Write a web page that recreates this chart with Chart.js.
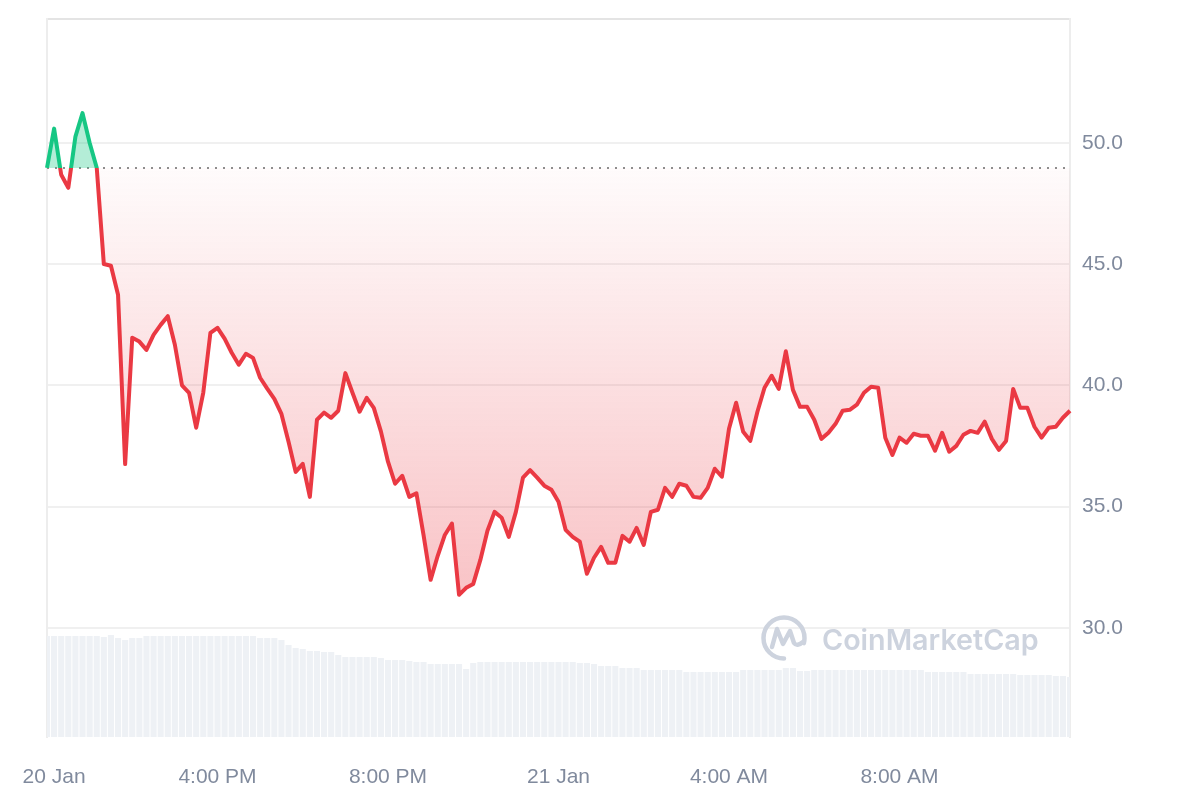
<!DOCTYPE html>
<html>
<head>
<meta charset="utf-8">
<script src="https://cdn.jsdelivr.net/npm/chart.js@4.4.1/dist/chart.umd.min.js"></script>
<style>
  html, body { margin: 0; padding: 0; background: #fff; }
</style>
</head>
<body>
<canvas id="priceChart" width="1200" height="800"></canvas>
<script>
// price every 10 minutes, 20 Jan 12:00 PM -> 21 Jan 12:00 PM
var prices = [
  48.96, 50.58, 48.68, 48.14, 50.25, 51.22, 50.00, 48.97, 45.00, 44.93,
  43.73, 36.75, 41.96, 41.80, 41.46, 42.08, 42.49, 42.85, 41.67, 40.00,
  39.69, 38.25, 39.70, 42.16, 42.37, 41.92, 41.34, 40.85, 41.30, 41.13,
  40.31, 39.86, 39.44, 38.82, 37.67, 36.43, 36.76, 35.40, 38.58, 38.87,
  38.66, 38.95, 40.50, 39.69, 38.91, 39.48, 39.07, 38.10, 36.85, 35.94,
  36.27, 35.40, 35.55, 33.83, 31.98, 32.97, 33.83, 34.30, 31.36, 31.65,
  31.81, 32.80, 34.00, 34.78, 34.54, 33.75, 34.78, 36.19, 36.50, 36.19,
  35.86, 35.69, 35.20, 34.04, 33.75, 33.55, 32.23, 32.89, 33.34, 32.68,
  32.68, 33.79, 33.55, 34.12, 33.42, 34.78, 34.87, 35.77, 35.40, 35.94,
  35.86, 35.40, 35.36, 35.77, 36.56, 36.23, 38.21, 39.28, 38.08, 37.71,
  38.91, 39.90, 40.39, 39.85, 41.40, 39.81, 39.11, 39.11, 38.58, 37.79,
  38.04, 38.41, 38.95, 38.99, 39.20, 39.69, 39.94, 39.90, 37.84, 37.13,
  37.84, 37.63, 38.00, 37.92, 37.92, 37.30, 38.04, 37.26, 37.50, 37.96,
  38.12, 38.04, 38.50, 37.79, 37.34, 37.70, 39.85, 39.07, 39.07, 38.29,
  37.84, 38.25, 38.29, 38.66, 38.95
];

// 24h volume (M) at the same times
var volumes = [
  140.7, 140.7, 140.7, 140.7, 140.7, 140.7, 140.7, 140.7, 139.3, 142.1,
  137.9, 135.1, 137.9, 137.9, 140.7, 140.7, 140.7, 140.7, 140.7, 140.7,
  140.7, 140.7, 140.7, 140.7, 140.7, 140.7, 140.7, 140.7, 140.7, 140.7,
  137.9, 137.9, 137.9, 135.1, 128.1, 124.0, 122.6, 119.8, 119.8, 118.4,
  118.4, 114.2, 111.4, 111.4, 111.4, 111.4, 111.4, 110.0, 107.2, 107.2,
  107.2, 105.9, 104.5, 104.5, 101.7, 101.7, 101.7, 101.7, 101.7, 94.7,
  103.1, 104.5, 104.5, 104.5, 104.5, 104.5, 104.5, 104.5, 104.5, 104.5,
  104.5, 104.5, 104.5, 104.5, 104.5, 103.1, 103.1, 101.7, 98.9, 98.9,
  98.9, 96.1, 96.1, 96.1, 93.3, 93.3, 93.3, 93.3, 93.3, 93.3,
  90.5, 90.5, 90.5, 90.5, 90.5, 90.5, 90.5, 90.5, 93.3, 93.3,
  93.3, 93.3, 93.3, 93.3, 96.1, 96.1, 91.9, 91.9, 93.3, 93.3,
  93.3, 93.3, 93.3, 93.3, 93.3, 93.3, 93.3, 93.3, 93.3, 93.3,
  93.3, 93.3, 93.3, 93.3, 90.5, 90.5, 90.5, 90.5, 90.5, 90.5,
  87.7, 87.7, 87.7, 87.7, 87.7, 87.7, 87.7, 86.4, 86.4, 86.4,
  86.4, 86.4, 85.0, 85.0, 83.6
];

var openPrice = 48.96;
var yTicks = [30, 35, 40, 45, 50];
var xTickIndex = [1, 24, 48, 72, 96, 120];
var xTickText = ['20 Jan', '4:00 PM', '8:00 PM', '21 Jan', '4:00 AM', '8:00 AM'];

var labels = [];
for (var i = 0; i < prices.length; i++) {
  var m = 12 * 60 + i * 10;
  var day = m >= 1440 ? '21 Jan ' : '20 Jan ';
  var hh = Math.floor((m % 1440) / 60), mm = m % 60;
  labels.push(day + String(hh).padStart(2, '0') + ':' + String(mm).padStart(2, '0'));
}

var RED = '#ea3943', GREEN = '#16c784', LABEL = '#808a9d';
var yMin = 25.5, yMax = 55.1;

function lineColor(context) {
  var chart = context.chart, a = chart.chartArea;
  if (!a) return RED;
  var y = chart.scales.y.getPixelForValue(openPrice);
  var t = Math.min(Math.max((y - a.top) / (a.bottom - a.top), 0), 1);
  var g = chart.ctx.createLinearGradient(0, a.top, 0, a.bottom);
  g.addColorStop(0, GREEN);
  g.addColorStop(t, GREEN);
  g.addColorStop(t, RED);
  g.addColorStop(1, RED);
  return g;
}

function redFill(context) {
  var chart = context.chart, a = chart.chartArea;
  if (!a) return 'rgba(234,57,67,0.1)';
  var y0 = chart.scales.y.getPixelForValue(openPrice);
  var y1 = chart.scales.y.getPixelForValue(Math.min.apply(null, prices));
  var g = chart.ctx.createLinearGradient(0, y0, 0, y1);
  g.addColorStop(0, 'rgba(234,57,67,0.02)');
  g.addColorStop(1, 'rgba(234,57,67,0.30)');
  return g;
}

function noPad(s) {
  s.paddingTop = 0;
  s.paddingBottom = 0;
  s.paddingLeft = 0;
  s.paddingRight = 0;
}

var openLine = {
  id: 'openLine',
  beforeDatasetsDraw: function (chart) {
    var ctx = chart.ctx, a = chart.chartArea;
    var y = Math.round(chart.scales.y.getPixelForValue(openPrice));
    ctx.save();
    ctx.strokeStyle = '#8e8e8e';
    ctx.lineWidth = 2;
    ctx.setLineDash([2, 6]);
    ctx.beginPath();
    ctx.moveTo(a.left, y);
    ctx.lineTo(a.right, y);
    ctx.stroke();
    ctx.restore();
  }
};

var watermark = {
  id: 'watermark',
  beforeDatasetsDraw: function (chart) {
    var ctx = chart.ctx, a = chart.chartArea;
    var cx = a.right - 286, cy = a.bottom - 99;
    ctx.save();
    ctx.strokeStyle = '#cdd3de';
    ctx.fillStyle = '#cdd3de';
    ctx.lineWidth = 4.5;
    ctx.lineCap = 'round';
    ctx.lineJoin = 'round';
    ctx.beginPath();
    ctx.arc(cx, cy, 20.5, 0.5 * Math.PI, 2.08 * Math.PI);
    ctx.stroke();
    ctx.beginPath();
    ctx.moveTo(cx - 12, cy + 9);
    ctx.lineTo(cx - 7, cy - 9);
    ctx.lineTo(cx - 1, cy + 6);
    ctx.lineTo(cx + 6, cy - 7);
    ctx.lineTo(cx + 10, cy + 5);
    ctx.quadraticCurveTo(cx + 13, cy + 9, cx + 19, cy + 4);
    ctx.stroke();
    ctx.font = '600 26px Inter, sans-serif';
    var w = ctx.measureText('CoinMarketCap').width;
    var size = 26 * 217 / w;
    ctx.font = '600 ' + size.toFixed(1) + 'px Inter, sans-serif';
    ctx.textBaseline = 'alphabetic';
    ctx.fillText('CoinMarketCap', a.right - 248, a.bottom - 87);
    ctx.restore();
  }
};

Chart.defaults.font.family = "'Liberation Sans', Arial, sans-serif";

var ctx = document.getElementById('priceChart').getContext('2d');
var priceChart = new Chart(ctx, {
  type: 'line',
  data: {
    labels: labels,
    datasets: [{
      type: 'line',
      label: 'Price',
      data: prices,
      xAxisID: 'x',
      yAxisID: 'y',
      order: 1,
      borderColor: lineColor,
      backgroundColor: redFill,
      borderWidth: 4,
      borderJoinStyle: 'round',
      pointRadius: 0,
      tension: 0,
      fill: { target: { value: openPrice }, above: 'rgba(22,199,132,0.32)' }
    }, {
      type: 'bar',
      label: 'Volume',
      data: volumes,
      xAxisID: 'x',
      yAxisID: 'vol',
      order: 2,
      backgroundColor: '#eef1f5',
      barPercentage: 0.86,
      categoryPercentage: 1.0
    }]
  },
  options: {
    responsive: false,
    animation: false,
    devicePixelRatio: 1,
    layout: { padding: { top: 19, left: 0, right: 0, bottom: 0 } },
    plugins: {
      legend: { display: false },
      tooltip: { enabled: false }
    },
    scales: {
      x: {
        type: 'category',
        offset: false,
        grid: { display: false, offset: false },
        border: { display: false },
        ticks: {
          autoSkip: false,
          maxRotation: 0,
          color: LABEL,
          font: { size: 21 },
          padding: 20,
          callback: function (v) {
            var k = xTickIndex.indexOf(v);
            return k < 0 ? '' : xTickText[k];
          }
        },
        afterBuildTicks: function (s) {
          s.ticks = xTickIndex.map(function (v) { return { value: v }; });
        },
        afterFit: function (s) { s.height = 63; noPad(s); }
      },
      y: {
        position: 'right',
        min: yMin,
        max: yMax,
        grid: {
          drawTicks: false,
          lineWidth: 2,
          color: function (c) { return c.tick && c.tick.value === yMax ? '#e4e4e4' : '#f0f0f0'; }
        },
        border: { display: true, color: '#ededed', width: 2 },
        ticks: {
          color: LABEL,
          font: { size: 21 },
          padding: 12,
          callback: function (v) { return yTicks.indexOf(v) < 0 ? '' : v.toFixed(1); }
        },
        afterBuildTicks: function (s) {
          s.ticks = yTicks.concat([yMax]).map(function (v) { return { value: v }; });
        },
        afterFit: function (s) { s.width = 130; noPad(s); }
      },
      vol: {
        position: 'left',
        min: 0,
        max: 1000,
        grid: { display: false },
        ticks: { display: false },
        border: { display: true, color: '#ededed', width: 2 },
        afterFit: function (s) { s.width = 47; noPad(s); }
      }
    }
  },
  plugins: [watermark, openLine]
});
</script>
</body>
</html>
